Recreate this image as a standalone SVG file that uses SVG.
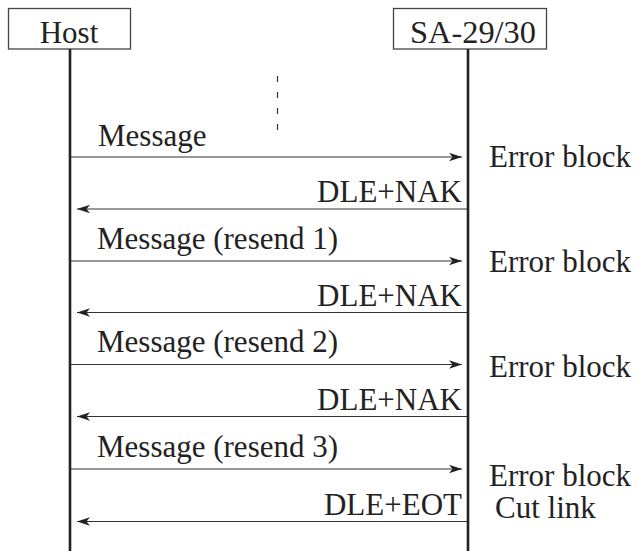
<svg xmlns="http://www.w3.org/2000/svg" width="637" height="551" viewBox="0 0 637 551">
  <style>
    text { font-size: 31px; fill: #222; }
    .box { fill: #fff; stroke: #444; stroke-width: 1.3; }
    .life { stroke: #222; stroke-width: 2.6; fill: none; }
    .msg { stroke: #333; stroke-width: 1.2; fill: none; marker-end: url(#head); }
    .gap { stroke: #333; stroke-width: 1.2; stroke-dasharray: 6 10; fill: none; }
    .end { text-anchor: end; }
    .mid { text-anchor: middle; }
  </style>
  <defs>
    <marker id="head" viewBox="-14 -5 15 10" refX="0" refY="0" markerWidth="15" markerHeight="10" markerUnits="userSpaceOnUse" orient="auto">
      <path d="M0,0 L-13,-4.2 L-9.5,0 L-13,4.2 Z" fill="#222"/>
    </marker>
  </defs>

  <rect width="637" height="551" fill="#fff"/>

  <g font-family="'Liberation Serif', 'DejaVu Serif', serif">
    <!-- participants -->
    <g id="host">
      <rect class="box" x="8.5" y="8.5" width="122" height="40.5"/>
      <text class="mid" x="69" y="43">Host</text>
      <line class="life" x1="70" y1="49" x2="70" y2="551"/>
    </g>
    <g id="sa">
      <rect class="box" x="393.5" y="8.5" width="153" height="40.5"/>
      <text x="410" y="43" textLength="126" lengthAdjust="spacingAndGlyphs">SA-29/30</text>
      <line class="life" x1="468" y1="49" x2="468" y2="551"/>
    </g>

    <!-- message exchange -->
    <g id="connectors">
      <line class="gap" x1="277.5" y1="76" x2="277.5" y2="140"/>

      <line class="msg" x1="71" y1="157" x2="462" y2="157"/>
      <line class="msg" x1="467" y1="209" x2="77" y2="209"/>
      <line class="msg" x1="71" y1="261" x2="462" y2="261"/>
      <line class="msg" x1="467" y1="312.5" x2="77" y2="312.5"/>
      <line class="msg" x1="71" y1="364.5" x2="462" y2="364.5"/>
      <line class="msg" x1="467" y1="416.5" x2="77" y2="416.5"/>
      <line class="msg" x1="71" y1="469" x2="462" y2="469"/>
      <line class="msg" x1="467" y1="521.5" x2="77" y2="521.5"/>
    </g>

    <!-- labels -->
    <g id="labels">
      <text x="98" y="146">Message</text>
      <text class="end" x="462" y="202">DLE+NAK</text>
      <text x="97" y="249">Message (resend 1)</text>
      <text class="end" x="462" y="306">DLE+NAK</text>
      <text x="97" y="352">Message (resend 2)</text>
      <text class="end" x="462" y="410">DLE+NAK</text>
      <text x="97" y="457">Message (resend 3)</text>
      <text class="end" x="462" y="515">DLE+EOT</text>

      <text x="489" y="167">Error block</text>
      <text x="489" y="272">Error block</text>
      <text x="489" y="377">Error block</text>
      <text x="489" y="486">Error block</text>
      <text x="495" y="518">Cut link</text>
    </g>
  </g>
</svg>
